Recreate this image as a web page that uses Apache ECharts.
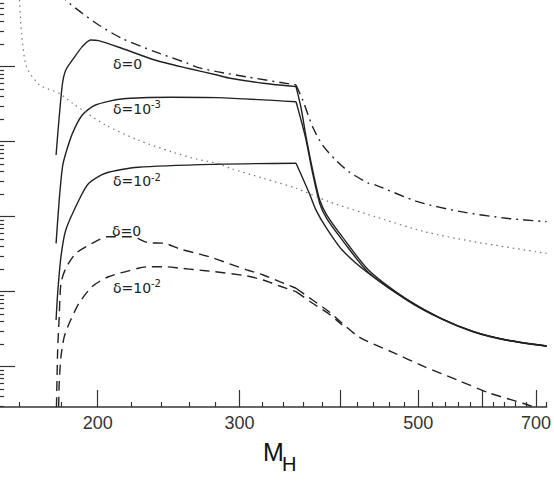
<!DOCTYPE html>
<html>
<head>
<meta charset="utf-8">
<script src="https://cdn.jsdelivr.net/npm/echarts@6.0.0/dist/echarts.min.js"></script>
<style>
    html, body { margin: 0; padding: 0; background: #fff; }
    #chart { width: 554px; height: 485px; }
</style>
</head>
<body>
<div id="chart"></div>
<script>
// M_H values and curve heights (log-log)
const mSolid0 = [177.6, 179.2, 180.9, 182.6, 186.1, 191.4, 196.0, 200.6, 214.2, 235.4, 258.6, 281.3, 292.1, 321.0, 352.6,
    357.7, 362.8, 369.7, 377.3, 385.0, 402.3, 433.7, 485.5, 533.4, 585.8, 643.5, 721.6];
const ySolid0 = [6.65, 21.5, 60.1, 90.4, 122.8, 185, 227, 222, 176, 122.8, 95.2, 77.4, 70, 60.1, 54.1,
    28.1, 11.7, 4.2, 1.67, 1.05, 0.541, 0.195, 0.0774, 0.0442, 0.0293, 0.0227, 0.0189];

const mSolid3 = [177.6, 179.2, 180.9, 182.6, 186.1, 191.4, 198.8, 214.2, 246.7, 281.3, 352.6,
    357.7, 362.8, 369.7, 377.3, 385.0, 402.3, 433.7, 485.5, 533.4, 585.8, 643.5, 721.6];
const ySolid3 = [0.441, 1.67, 4.64, 7.0, 12.9, 22.7, 30.8, 37.1, 39.1, 38.6, 34.1,
    19.4, 10.6, 3.8, 1.5, 0.94, 0.49, 0.18, 0.0755, 0.0436, 0.029, 0.0225, 0.0187];

const mSolid2 = [177.6, 178.4, 180.1, 182.6, 189.6, 195.0, 204.5, 224.6, 281.3, 352.6,
    366.2, 373.2, 383.8, 402.3, 433.7, 485.5, 533.4, 585.8, 643.5, 721.6];
const ySolid2 = [0.042, 0.0952, 0.293, 0.665, 1.67, 2.79, 3.79, 4.56, 5.0, 5.15,
    2.05, 1.23, 0.73, 0.359, 0.176, 0.0774, 0.0442, 0.0293, 0.0227, 0.0189];

const mDash0 = [177.8, 178.4, 179.2, 180.1, 182.6, 187.9, 196.9, 206.3, 220.3, 231.0, 242.1, 253.7, 266.0, 278.8,
    306.3, 321.0, 336.4, 352.6, 369.7, 387.4, 421.7, 463.3, 508.8, 558.9, 614.0, 674.5, 693.8];
const yDash0 = [0.0029, 0.0167, 0.0464, 0.129, 0.205, 0.324, 0.441, 0.541, 0.541, 0.45, 0.441, 0.367, 0.324, 0.279,
    0.195, 0.167, 0.136, 0.111, 0.0774, 0.0541, 0.0251, 0.0158, 0.01, 0.00665, 0.00442, 0.00325, 0.00293];

// joins the delta=0 dashed curve near 400 GeV
const mDash2 = [178.9, 179.2, 180.1, 181.8, 184.4, 189.6, 196.9, 206.3, 224.6, 231.0, 242.1, 253.7, 266.0, 278.8,
    306.3, 321.0, 336.4, 352.6, 369.7, 387.4, 402.3];
const yDash2 = [0.00293, 0.00601, 0.0136, 0.0251, 0.038, 0.07, 0.117, 0.158, 0.205, 0.215, 0.215, 0.205, 0.195, 0.185,
    0.162, 0.143, 0.119, 0.1, 0.07, 0.0504, 0.036];

const mDashDot = [180.0, 182.6, 191.4, 200.6, 214.2, 235.4, 258.6, 266.0, 281.3, 306.3, 352.6,
    359.4, 369.7, 380.2, 394.8, 410.0, 433.7, 442.0, 499.3, 564.2, 643.5, 721.6];
const yDashDot = [1000, 774, 515, 359.5, 239, 158.5, 111, 98, 85.8, 73, 57,
    35.9, 15.8, 9.04, 5.7, 3.98, 2.79, 2.65, 1.585, 1.166, 0.952, 0.858];

const mDotted = [160.0, 160.9, 163.2, 169.4, 179.2, 186.1, 204.5, 224.6, 246.7, 266.0, 281.3, 292.1, 321.0, 352.6,
    387.4, 442.0, 508.8, 585.8, 721.6];
const yDotted = [774, 281, 100, 57, 44.1, 32.5, 16.7, 10.5, 7.36, 5.82, 5.15, 4.42, 3.25, 2.39,
    1.585, 1.0, 0.631, 0.464, 0.324];

// threshold where the curves kink
const THRESHOLD = 352.6;

// axis ticks
const xMajorTicks = [200, 300, 400, 500, 600, 700];
const xLabelTicks = [200, 300, 500, 700];
const xMinorTicks = [160, 180, 220, 240, 260, 280, 320, 340, 360, 380, 420, 440, 460, 480,
    520, 540, 560, 580, 620, 640, 660, 680, 720];
const yMajorTicks = [0.01, 0.1, 1, 10, 100];
const yMinorTicks = [];
[0.001, 0.01, 0.1, 1, 10, 100].forEach(d => {
    for (let k = 2; k <= 9; k++) {
        const v = +(d * k).toPrecision(3);
        if (v > 0.0029 && v < 774) yMinorTicks.push(v);
    }
});

const X_MIN = 151.3, X_MAX = 721.6;
const Y_MIN = 0.0029, Y_MAX = 774;

const ink = '#222';
const font = 'Liberation Sans';

function pairs(xs, ys) {
    return xs.map((x, i) => [x, ys[i]]);
}

// split at the threshold so the kink stays sharp, smooth elsewhere
function curve(xs, ys, type, width, color, split) {
    const all = pairs(xs, ys);
    const k = xs.indexOf(THRESHOLD);
    const parts = (split && k > 0) ? [all.slice(0, k + 1), all.slice(k)] : [all];
    return parts.map(part => ({
        type: 'line',
        xAxisIndex: 0,
        yAxisIndex: 0,
        showSymbol: false,
        symbol: 'none',
        smooth: 0.25,
        clip: true,
        silent: true,
        lineStyle: { color: color || ink, width: width, type: type },
        data: part
    }));
}

const series = [].concat(
    curve(mSolid0, ySolid0, 'solid', 1.4, null, true),
    curve(mSolid3, ySolid3, 'solid', 1.4, null, true),
    curve(mSolid2, ySolid2, 'solid', 1.4, null, true),
    curve(mDash0, yDash0, [10, 6], 1.4, null, true),
    curve(mDash2, yDash2, [10, 6], 1.4, null, true),
    curve(mDashDot, yDashDot, [10, 5, 2, 5], 1.4, null, true),
    curve(mDotted, yDotted, [1.5, 4], 1.2, '#777', false)
);

function tex(text, x, y, size) {
    return { type: 'text', x: x, y: y, style: { text: text, font: size + 'px DejaVu Sans', fill: ink, verticalAlign: 'middle' } };
}

const chart = echarts.init(document.getElementById('chart'), null, { renderer: 'svg' });
chart.setOption({
    backgroundColor: '#fff',
    animation: false,
    grid: { left: 0, right: 0, top: 0, bottom: 78, containLabel: false },
    xAxis: [
        {
            type: 'log', position: 'bottom', min: X_MIN, max: X_MAX,
            axisLine: { show: true, lineStyle: { color: '#333', width: 1.5 } },
            axisTick: { inside: true, length: 17, customValues: xMajorTicks, lineStyle: { color: '#333', width: 1.2 } },
            axisLabel: { customValues: xLabelTicks, fontFamily: font, fontSize: 18, color: '#333', margin: 7 },
            splitLine: { show: false }
        },
        {
            type: 'log', position: 'bottom', min: X_MIN, max: X_MAX,
            axisLine: { show: false },
            axisTick: { inside: true, length: 5, customValues: xMinorTicks, lineStyle: { color: '#333', width: 1.2 } },
            axisLabel: { show: false },
            splitLine: { show: false }
        }
    ],
    yAxis: [
        {
            type: 'log', position: 'left', min: Y_MIN, max: Y_MAX,
            axisLine: { show: false },
            axisTick: { show: true, inside: true, length: 15, customValues: yMajorTicks, lineStyle: { color: '#333', width: 1.2 } },
            axisLabel: { show: false },
            splitLine: { show: false }
        },
        {
            type: 'log', position: 'left', min: Y_MIN, max: Y_MAX,
            axisLine: { show: false },
            axisTick: { show: true, inside: true, length: 4, customValues: yMinorTicks, lineStyle: { color: '#333', width: 1.2 } },
            axisLabel: { show: false },
            splitLine: { show: false }
        }
    ],
    series: series,
    graphic: [
        tex('δ=0', 113, 64, 14),
        tex('δ=10', 113, 109, 14),
        tex('-3', 151, 104, 10),
        tex('δ=10', 113, 181, 14),
        tex('-2', 151, 177, 10),
        tex('δ=0', 112, 231, 14),
        tex('δ=10', 113, 288, 14),
        tex('-2', 151, 283, 10),
        { type: 'text', x: 263, y: 452, style: { text: 'M', font: '25px Liberation Sans', fill: '#111', verticalAlign: 'middle' } },
        { type: 'text', x: 282, y: 464, style: { text: 'H', font: '20px Liberation Sans', fill: '#111', verticalAlign: 'middle' } }
    ]
});
</script>
</body>
</html>
